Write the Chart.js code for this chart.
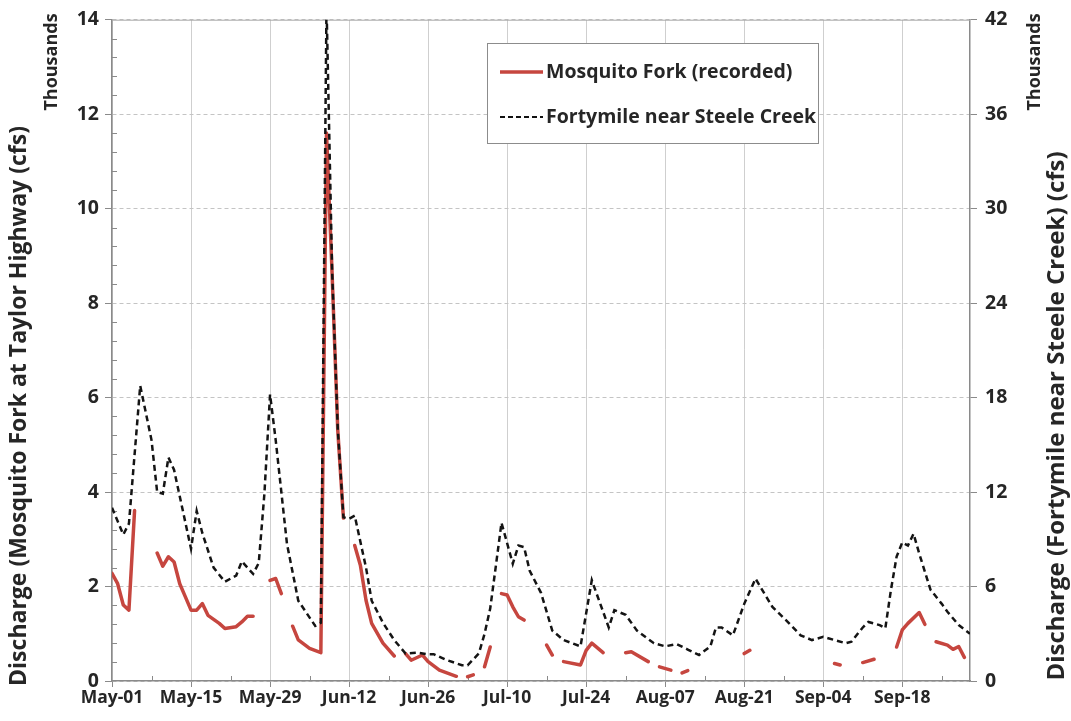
<!DOCTYPE html>
<html><head><meta charset="utf-8">
<script src="https://cdn.jsdelivr.net/npm/chart.js@4"></script>
<style>html,body{margin:0;padding:0;background:#fff}</style>
</head><body>
<canvas id="c" width="1071" height="721"></canvas>
<script>
// x tick labels (every 14 days from May-01), day offsets since May-01
const xTickLabels = ['May-01','May-15','May-29','Jun-12','Jun-26','Jul-10','Jul-24','Aug-07','Aug-21','Sep-04','Sep-18'];
const xTickDays   = [0,14,28,42,56,70,84,98,112,126,140];

// Mosquito Fork (recorded), thousands cfs, left axis; null = missing record
const mosquitoDays = [0,1,2,3,4, 6, 8,9,10,11,12,13,14,15,16,17,19,20,22,23,24,25, 27, 28,29,30, 31, 32,33,35,37,38,39,40,41, 42, 43,44,45,46,48,50, 51, 52,53,55,56,58,61, 62, 63,64, 65, 66,67, 68, 69,70,71,72,73, 75, 77,78, 79, 80,83,84,85,87, 89, 91,92,95, 96, 97,99, 100, 101,102, 107, 112,113, 120, 128,129, 131, 133,135, 137, 139,140,141,143,144, 145, 146,148,149,150,151];
const mosquitoFlow = [2.28,2.06,1.61,1.50,3.61, null, 2.71,2.43,2.63,2.52,2.06,1.78,1.50,1.50,1.64,1.39,1.22,1.11,1.15,1.25,1.37,1.37, null, 2.13,2.17,1.85, null, 1.16,0.87,0.69,0.60,11.6,8.6,5.3,3.45, null, 2.87,2.45,1.71,1.22,0.80,0.53, null, 0.58,0.44,0.55,0.41,0.23,0.10, null, 0.09,0.13, null, 0.30,0.72, null, 1.85,1.82,1.57,1.36,1.29, null, 0.76,0.55, null, 0.41,0.34,0.65,0.80,0.60, null, 0.60,0.62,0.41, null, 0.30,0.23, null, 0.17,0.22, null, 0.58,0.65, null, 0.37,0.34, null, 0.39,0.46, null, 0.72,1.08,1.22,1.45,1.20, null, 0.83,0.76,0.67,0.73,0.50];

// Fortymile near Steele Creek, thousands cfs, right axis
const fortyDays = [0,2,3,5,7,8,9,10,11,14,15,16,18,20,22,23,25,26,27,28,29,31,33,36,37,38,39,40,41,42,43,45,46,48,50,52,54,56,57,59,62,63,65,66,67,68,69,71,72,73,74,76,78,80,83,85,88,89,91,93,96,98,100,102,104,106,107,108,110,112,114,117,120,122,124,126,128,130,131,133,134,136,137,138,139,140,141,142,143,145,147,148,150,152];
const fortyFlow = [11.0,9.3,10.0,18.75,15.3,12.0,11.9,14.2,13.4,8.4,10.8,9.4,7.2,6.3,6.7,7.6,6.8,7.5,11.9,18.2,15.3,8.7,5.1,3.5,3.7,43,26,16,10.4,10.3,10.5,7.2,5.1,3.7,2.6,1.75,1.8,1.7,1.7,1.37,1.0,1.0,1.75,3.0,4.6,7.3,10.05,7.45,8.6,8.5,7.0,5.6,3.2,2.6,2.2,6.4,3.4,4.5,4.2,3.2,2.4,2.2,2.35,2.0,1.65,2.2,3.4,3.4,2.9,4.9,6.5,4.7,3.65,2.9,2.6,2.8,2.6,2.4,2.5,3.4,3.75,3.55,3.35,5.8,7.9,8.8,8.6,9.35,8.1,5.8,4.9,4.4,3.55,3.0];

const seriesNames = ['Mosquito Fork (recorded)', 'Fortymile near Steele Creek'];
const leftTitle = 'Discharge (Mosquito Fork at Taylor Highway (cfs)';
const rightTitle = 'Discharge (Fortymile near Steele Creek) (cfs)';
const unitLabel = 'Thousands';

const RED = '#c6463f';
const FONT = '"Open Sans", "Noto Sans", sans-serif';
const TXT = '#262626';

const decor = {
  id: 'decor',
  beforeDatasetsDraw(chart) {
    const {ctx, chartArea: a} = chart;
    const xs = chart.scales.x, ys = chart.scales.y;
    ctx.save();
    ctx.strokeStyle = '#a8a8a8'; ctx.lineWidth = 1;
    ctx.beginPath(); ctx.moveTo(a.left, a.top + 0.5); ctx.lineTo(a.right, a.top + 0.5); ctx.stroke();
    ctx.strokeStyle = '#8a8a8a';
    ctx.beginPath();
    for (let d = 7; d < 152; d += 14) {
      const px = Math.round(xs.getPixelForValue(d)) + 0.5;
      ctx.moveTo(px, a.bottom); ctx.lineTo(px, a.bottom - 5);
    }
    for (let k = 1; k < 35; k++) {
      if (k % 5 === 0) continue;
      const py = Math.round(ys.getPixelForValue(k * 0.4)) + 0.5;
      ctx.moveTo(a.left, py); ctx.lineTo(a.left + 5, py);
    }
    ctx.stroke();
    ctx.restore();
  },
  afterDraw(chart) {
    const {ctx} = chart;
    ctx.save();
    ctx.fillStyle = TXT;
    ctx.textAlign = 'center'; ctx.textBaseline = 'middle';
    const vtext = (t, x, y, size) => {
      ctx.save(); ctx.translate(x, y); ctx.rotate(-Math.PI / 2);
      ctx.font = 'bold ' + size + 'px ' + FONT; ctx.fillText(t, 0, 0); ctx.restore();
    };
    vtext(leftTitle, 19, 406, 23);
    vtext(unitLabel, 52, 62, 18);
    vtext(rightTitle, 1057, 416, 24);
    vtext(unitLabel, 1035, 62, 18);
    // legend
    ctx.fillStyle = '#fff'; ctx.fillRect(487.5, 43.5, 331, 100);
    ctx.strokeStyle = '#8c8c8c'; ctx.lineWidth = 1; ctx.strokeRect(487.5, 43.5, 331, 100);
    ctx.lineWidth = 3.5; ctx.strokeStyle = RED; ctx.setLineDash([]);
    ctx.beginPath(); ctx.moveTo(500, 72); ctx.lineTo(543, 72); ctx.stroke();
    ctx.lineWidth = 2; ctx.strokeStyle = '#111'; ctx.setLineDash([5, 3]);
    ctx.beginPath(); ctx.moveTo(500, 117); ctx.lineTo(543, 117); ctx.stroke();
    ctx.setLineDash([]);
    ctx.fillStyle = TXT; ctx.textAlign = 'left'; ctx.font = 'bold 19.5px ' + FONT;
    ctx.fillText(seriesNames[0], 546, 72);
    ctx.fillText(seriesNames[1], 546, 117);
    ctx.restore();
  }
};

new Chart(document.getElementById('c'), {
  type: 'line',
  data: {
    datasets: [
      {
        label: seriesNames[0],
        data: mosquitoDays.map((d, i) => ({x: d, y: mosquitoFlow[i]})),
        yAxisID: 'y', borderColor: RED, borderWidth: 3.5, pointRadius: 0,
        spanGaps: false, tension: 0, borderJoinStyle: 'round', borderCapStyle: 'round', order: 2
      },
      {
        label: seriesNames[1],
        data: fortyDays.map((d, i) => ({x: d, y: fortyFlow[i]})),
        yAxisID: 'y2', borderColor: '#141414', borderWidth: 2.5, borderDash: [6, 4],
        pointRadius: 0, tension: 0, order: 1
      }
    ]
  },
  options: {
    responsive: false, animation: false, devicePixelRatio: 1,
    layout: {padding: {top: 18, left: 0, right: 0, bottom: 0}},
    plugins: {legend: {display: false}, tooltip: {enabled: false}},
    scales: {
      x: {
        type: 'linear', min: 0, max: 152,
        afterFit: s => { s.height = 40; },
        afterBuildTicks: s => { s.ticks = xTickDays.map(v => ({value: v})); },
        ticks: {
          autoSkip: false, maxRotation: 0, padding: 1,
          callback: v => { const i = xTickDays.indexOf(v); return i >= 0 ? xTickLabels[i] : ''; },
          font: {family: FONT, size: 17.5, weight: 'bold'}, color: TXT
        },
        grid: {color: '#cfcfcf', lineWidth: 1, tickLength: 6, tickColor: '#8a8a8a'},
        border: {color: '#8a8a8a', width: 1.5}
      },
      y: {
        position: 'left', min: 0, max: 14,
        afterFit: s => { s.width = 112; },
        ticks: {stepSize: 2, padding: 6, font: {family: FONT, size: 19.5, weight: 'bold'}, color: TXT},
        grid: {color: '#c4c4c4', lineWidth: 1, tickLength: 7, tickColor: '#8a8a8a'},
        border: {color: '#8a8a8a', width: 1.5, dash: [4, 3]}
      },
      y2: {
        position: 'right', min: 0, max: 42,
        afterFit: s => { s.width = 101; },
        ticks: {stepSize: 6, padding: 8, font: {family: FONT, size: 19.5, weight: 'bold'}, color: TXT},
        grid: {drawOnChartArea: false, tickLength: 7, tickColor: '#8a8a8a'},
        border: {color: '#8a8a8a', width: 1.5}
      }
    }
  },
  plugins: [decor]
});
</script>
</body></html>
